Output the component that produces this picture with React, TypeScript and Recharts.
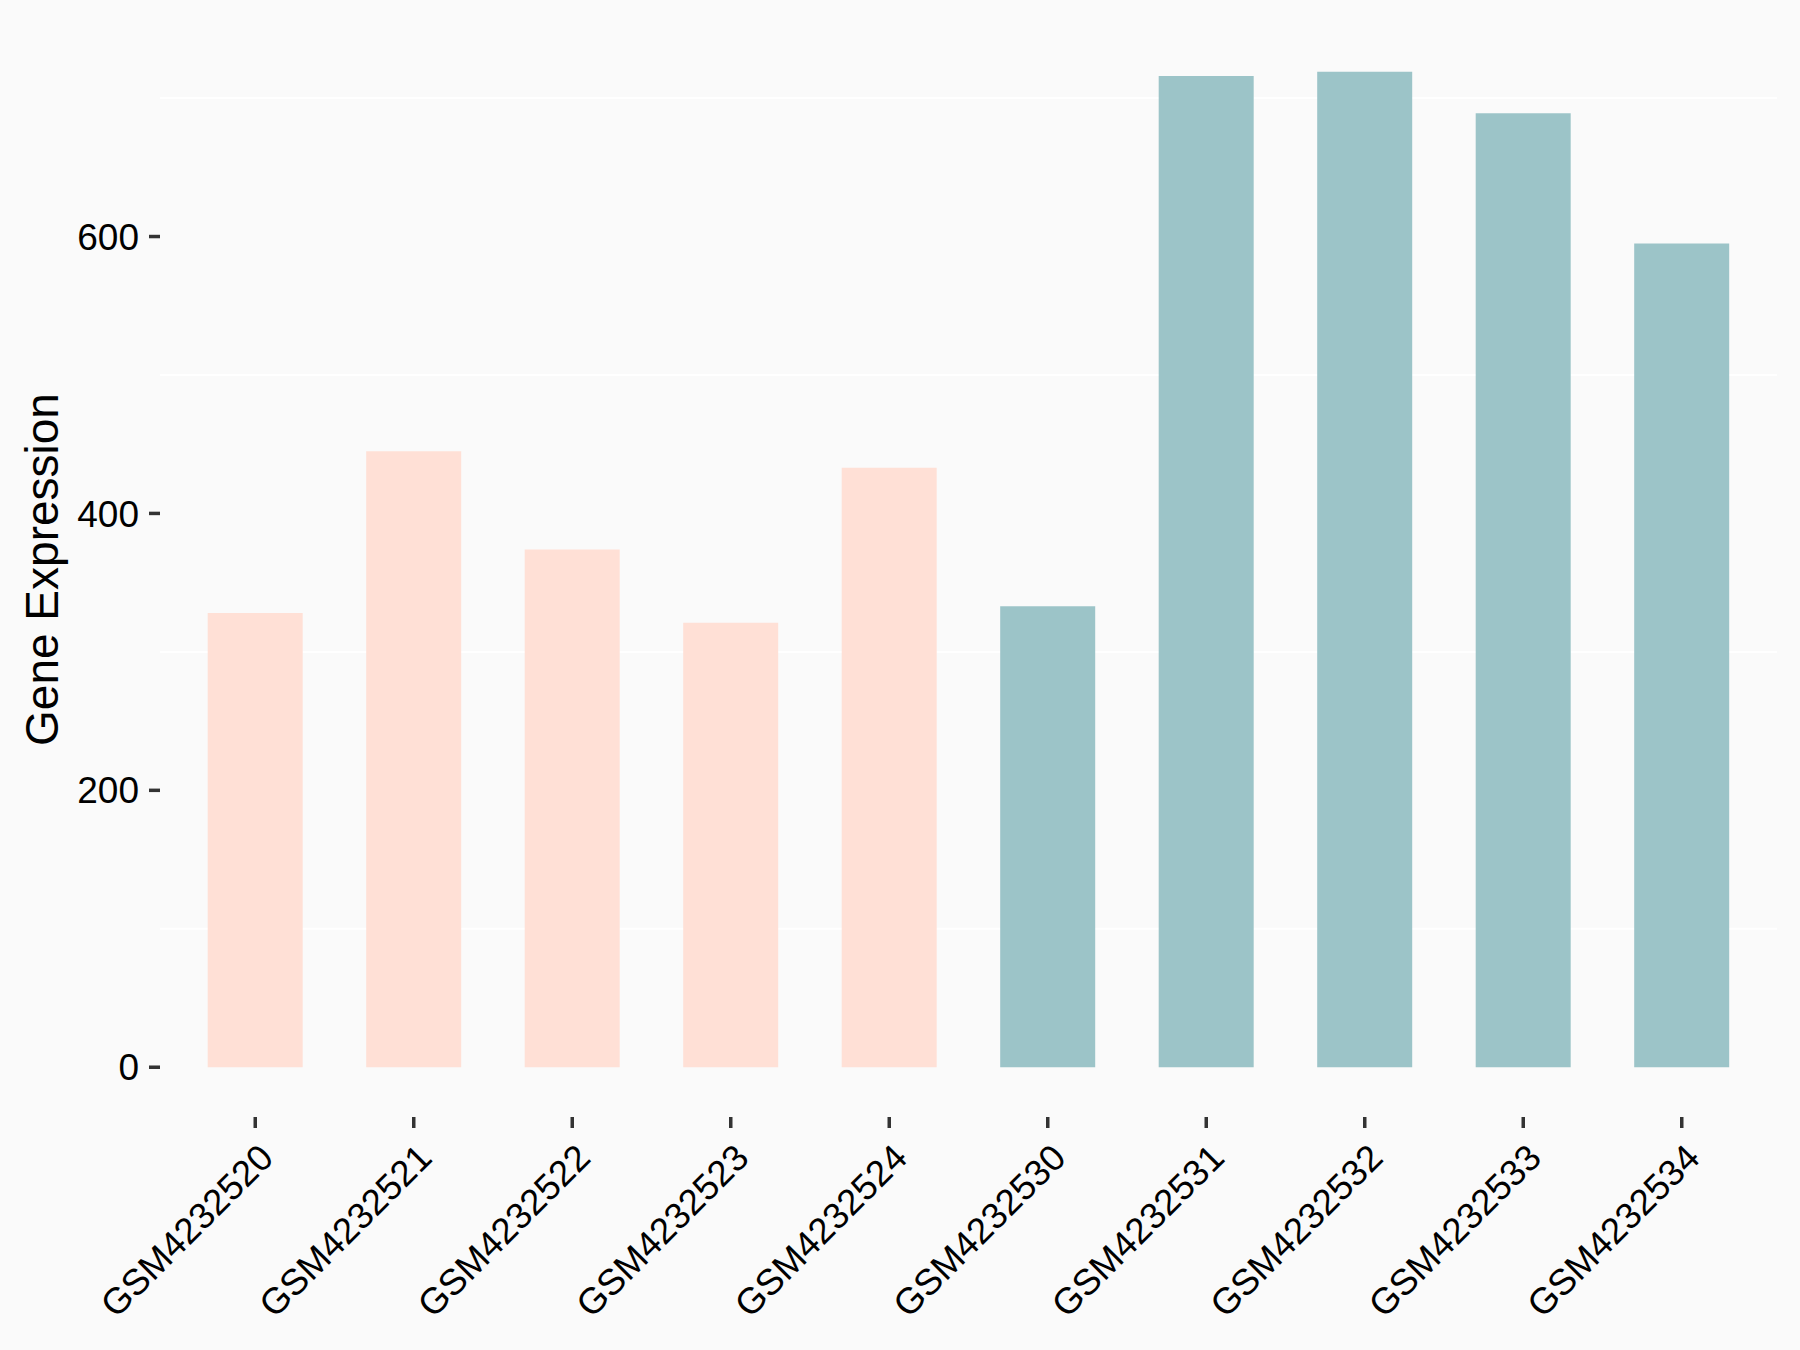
import React from 'react';
import { BarChart, Bar, Cell, XAxis, YAxis, CartesianGrid, Label } from 'recharts';

const samples = [
  'GSM4232520',
  'GSM4232521',
  'GSM4232522',
  'GSM4232523',
  'GSM4232524',
  'GSM4232530',
  'GSM4232531',
  'GSM4232532',
  'GSM4232533',
  'GSM4232534',
];
const expression = [328, 445, 374, 321, 433, 333, 716, 719, 689, 595];
const groups = ['A', 'A', 'A', 'A', 'A', 'B', 'B', 'B', 'B', 'B'];
const yTicks = [0, 200, 400, 600];
const minorGrid = [100, 300, 500, 700];

const groupColors: Record<string, string> = { A: '#FFE0D6', B: '#9CC4C8' };
const font = '"Liberation Sans", Arial, sans-serif';

const data = samples.map((sample, i) => ({ sample, value: expression[i], group: groups[i] }));

// ggplot-style 5% expansion on the continuous axis
const maxVal = Math.max(...expression);
const yDomain = [-maxVal * 0.05, maxVal * 1.05];

const SampleTick = (props: any) => {
  const { x, y, payload } = props;
  const ax = x + 20;
  const ay = y + 32;
  return (
    <text
      x={ax}
      y={ay}
      transform={`rotate(-45, ${ax}, ${ay})`}
      textAnchor="end"
      fontSize={36.5}
      fontFamily={font}
      fill="#000"
    >
      {payload.value}
    </text>
  );
};

export default function App() {
  return (
    <div style={{ width: 1800, height: 1350, background: '#FAFAFA' }}>
      <style>{'body{margin:0}'}</style>
      <BarChart
        width={1800}
        height={1350}
        data={data}
        margin={{ top: 22, right: 23, bottom: 0, left: 0 }}
        barCategoryGap="20%"
      >
        <CartesianGrid horizontalValues={minorGrid} vertical={false} stroke="#FFFFFF" strokeWidth={2} />
        <XAxis
          dataKey="sample"
          height={233}
          padding={{ left: 16, right: 16 }}
          axisLine={false}
          tickSize={11}
          tickMargin={0}
          interval={0}
          tickLine={{ stroke: '#333333', strokeWidth: 3.5 }}
          tick={<SampleTick />}
        />
        <YAxis
          type="number"
          width={160}
          domain={yDomain}
          ticks={yTicks}
          axisLine={false}
          tickSize={11}
          tickMargin={10}
          tickLine={{ stroke: '#333333', strokeWidth: 3.5 }}
          tick={{ fontSize: 37, fill: '#000', fontFamily: font }}
        >
          <Label
            content={({ viewBox }: any) => {
              const cy = viewBox.y + viewBox.height / 2;
              return (
                <text
                  x={42}
                  y={cy}
                  transform={`rotate(-90, 42, ${cy})`}
                  textAnchor="middle"
                  dominantBaseline="central"
                  fontSize={46}
                  fontFamily={font}
                  fill="#000"
                >
                  Gene Expression
                </text>
              );
            }}
          />
        </YAxis>
        <Bar dataKey="value" isAnimationActive={false}>
          {data.map((d) => (
            <Cell key={d.sample} fill={groupColors[d.group]} />
          ))}
        </Bar>
      </BarChart>
    </div>
  );
}
